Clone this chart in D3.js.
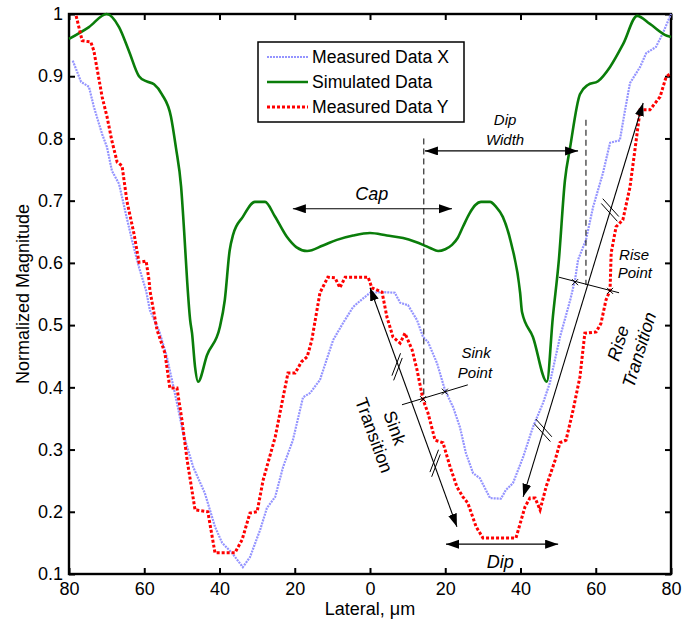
<!DOCTYPE html>
<html>
<head>
<meta charset="utf-8">
<script src="https://cdn.jsdelivr.net/npm/d3@7"></script>
<style>
body { margin: 0; background: #fff; }
text { font-family: "Liberation Sans", Arial, sans-serif; fill: #000; }
</style>
</head>
<body>
<div id="chart"></div>
<script>
// ---- data ----
const xTicks = [-80, -60, -40, -20, 0, 20, 40, 60, 80];
const yTicks = [0.1, 0.2, 0.3, 0.4, 0.5, 0.6, 0.7, 0.8, 0.9, 1];
const seriesNames = ["Measured Data X", "Simulated Data", "Measured Data Y"];

const measXLat = [-79, -76.8, -74.7, -73.4, -71.2, -69.9, -68.6, -66.7, -64.9, -63.2, -61.4, -59.5, -58.5, -56, -54.0, -51.3, -49.7, -47.0, -43.9, -41.2, -39.3, -36.7, -33.8, -31.9, -29.2, -27.4, -25.2, -23.1, -20.5, -17.8, -15.9, -13.3, -9.8, -7.2, -4.5, -3.2, 0, 3.5, 6.6, 8.0, 10.1, 12.5, 14.1, 15.4, 17.8, 19.9, 22.1, 23.9, 25.5, 27.4, 29.2, 31.9, 34.8, 36.1, 38.0, 40.7, 43.3, 46.0, 47.8, 50.5, 53.2, 54.5, 55.3, 57.4, 59.3, 61.9, 63.8, 66.4, 67.8, 69.1, 71.8, 73.4, 76.0, 77.9, 80];
const measXVal = [0.925, 0.891, 0.883, 0.851, 0.807, 0.786, 0.748, 0.727, 0.679, 0.635, 0.593, 0.555, 0.524, 0.49, 0.449, 0.375, 0.327, 0.272, 0.230, 0.176, 0.150, 0.134, 0.111, 0.127, 0.171, 0.206, 0.224, 0.272, 0.315, 0.384, 0.391, 0.412, 0.476, 0.503, 0.529, 0.536, 0.552, 0.553, 0.552, 0.536, 0.532, 0.508, 0.481, 0.473, 0.439, 0.396, 0.368, 0.336, 0.294, 0.262, 0.254, 0.222, 0.221, 0.235, 0.246, 0.288, 0.336, 0.375, 0.407, 0.481, 0.540, 0.573, 0.605, 0.637, 0.690, 0.744, 0.793, 0.797, 0.846, 0.889, 0.915, 0.937, 0.947, 0.970, 1.0];

const simLat = [-80, -74.7, -70, -66.7, -64.1, -61.4, -59.5, -57.4, -55.3, -52.9, -51.6, -50.2, -49.4, -48.6, -47.8, -47.3, -46.5, -45.7, -43.3, -39.9, -38.6, -37.3, -36.4, -33.8, -30.6, -27.9, -25.3, -22.1, -19.5, -16.7, -12.5, -8.8, -4.5, 0, 4.5, 8.8, 12, 14.1, 16, 18.1, 20, 21.8, 23.3, 24.7, 26.5, 28, 29.5, 31.9, 33.5, 35.3, 37.5, 39.9, 40.4, 43.3, 47.0, 48.6, 50.2, 51.8, 53.2, 55.8, 57.9, 60.6, 63.8, 67.3, 71.0, 74.4, 78.9, 80];
const simVal = [0.96, 0.979, 1.0, 0.979, 0.941, 0.90, 0.892, 0.887, 0.871, 0.835, 0.786, 0.722, 0.651, 0.571, 0.508, 0.487, 0.433, 0.409, 0.452, 0.497, 0.540, 0.620, 0.645, 0.674, 0.698, 0.698, 0.675, 0.642, 0.625, 0.619, 0.628, 0.637, 0.644, 0.648, 0.644, 0.640, 0.634, 0.629, 0.624, 0.619, 0.622, 0.629, 0.640, 0.658, 0.680, 0.693, 0.698, 0.698, 0.690, 0.674, 0.632, 0.552, 0.521, 0.481, 0.409, 0.513, 0.605, 0.732, 0.786, 0.871, 0.886, 0.892, 0.915, 0.952, 0.997, 0.984, 0.965, 0.963];

const measYLat = [-78.1, -76.5, -74.2, -73.4, -71.2, -69.9, -68.6, -67.2, -65.9, -64.6, -62.7, -61.4, -59.5, -58.7, -58.5, -56.6, -54.5, -53.2, -51.3, -50.0, -48.6, -46.5, -43.1, -41.2, -35.9, -34.0, -31.9, -30.0, -28.4, -25.2, -23.1, -21.8, -19.9, -18.2, -16.7, -15.5, -14.5, -13.3, -11.2, -9.3, -8.0, -6.6, -0.5, 0.5, 3.2, 4.5, 6.1, 8.0, 9.3, 11.2, 12.5, 14.1, 15.4, 17.3, 19.4, 21.3, 23.1, 24.7, 26.0, 28.2, 30.0, 38.8, 41.2, 42.5, 43.9, 45.2, 46.8, 49.2, 50.5, 52.1, 54.0, 55.8, 57.1, 60.1, 61.4, 62.7, 63.8, 64.1, 65.4, 67.2, 69.1, 70.4, 71.8, 74.4, 77.1, 78.7, 80];
const measYVal = [0.997, 0.957, 0.955, 0.941, 0.867, 0.835, 0.796, 0.762, 0.756, 0.699, 0.646, 0.601, 0.603, 0.571, 0.556, 0.492, 0.455, 0.399, 0.399, 0.348, 0.283, 0.203, 0.200, 0.134, 0.134, 0.155, 0.198, 0.200, 0.251, 0.320, 0.384, 0.423, 0.423, 0.441, 0.449, 0.475, 0.51, 0.552, 0.577, 0.576, 0.560, 0.577, 0.577, 0.560, 0.553, 0.513, 0.481, 0.471, 0.487, 0.460, 0.428, 0.380, 0.359, 0.315, 0.311, 0.272, 0.240, 0.224, 0.214, 0.176, 0.158, 0.158, 0.208, 0.222, 0.222, 0.203, 0.240, 0.283, 0.311, 0.315, 0.364, 0.417, 0.487, 0.489, 0.503, 0.540, 0.556, 0.616, 0.658, 0.669, 0.722, 0.781, 0.846, 0.846, 0.867, 0.899, 0.905];

// ---- layout ----
const width = 683, height = 623;
const margin = {left: 69, right: 12, top: 14, bottom: 49};

const svg = d3.select("#chart").append("svg").attr("width", width).attr("height", height);

const x = d3.scaleLinear().domain([-80, 80]).range([margin.left, width - margin.right]);
const y = d3.scaleLinear().domain([0.1, 1]).range([height - margin.bottom, margin.top]);

const defs = svg.append("defs");
defs.append("marker").attr("id", "head")
	.attr("markerUnits", "userSpaceOnUse")
	.attr("markerWidth", 14).attr("markerHeight", 10)
	.attr("refX", 13).attr("refY", 4.5)
	.attr("orient", "auto-start-reverse")
	.append("path").attr("d", "M0,0 L13,4.5 L0,9 z").attr("fill", "#000");

// axes, ticks pointing inward
const fmtY = d => d === 1 ? "1" : d.toFixed(1);
const axBottom = svg.append("g").attr("transform", `translate(0,${y(0.1)})`)
	.call(d3.axisBottom(x).tickValues(xTicks).tickSizeInner(-6).tickSizeOuter(0).tickPadding(8).tickFormat(d => Math.abs(d)));
const axTop = svg.append("g").attr("transform", `translate(0,${y(1)})`)
	.call(d3.axisTop(x).tickValues(xTicks).tickSizeInner(-6).tickSizeOuter(0).tickFormat(""));
const axLeft = svg.append("g").attr("transform", `translate(${x(-80)},0)`)
	.call(d3.axisLeft(y).tickValues(yTicks).tickSizeInner(-6).tickSizeOuter(0).tickPadding(6).tickFormat(fmtY));
const axRight = svg.append("g").attr("transform", `translate(${x(80)},0)`)
	.call(d3.axisRight(y).tickValues(yTicks).tickSizeInner(-6).tickSizeOuter(0).tickFormat(""));
[axBottom, axTop, axLeft, axRight].forEach(g => {
	g.select(".domain").remove();
	g.selectAll(".tick line").attr("stroke", "#000").attr("stroke-width", 2);
	g.selectAll("text").attr("font-size", 18).attr("font-family", "Liberation Sans, Arial, sans-serif").attr("fill", "#000");
});

svg.append("rect").attr("x", x(-80)).attr("y", y(1))
	.attr("width", x(80) - x(-80)).attr("height", y(0.1) - y(1))
	.attr("fill", "none").attr("stroke", "#000").attr("stroke-width", 2.4);

svg.append("text").attr("x", x(0)).attr("y", 615).attr("text-anchor", "middle")
	.attr("font-size", 18).text("Lateral, \u03bcm");
svg.append("text").attr("transform", `translate(29,${(y(0.1) + y(1)) / 2}) rotate(-90)`)
	.attr("text-anchor", "middle").attr("font-size", 18).text("Normalized Magnitude");

// ---- series ----
const zip = (a, b) => a.map((v, i) => [v, b[i]]);
const line = d3.line().x(d => x(d[0])).y(d => y(d[1]));
const smooth = d3.line().x(d => x(d[0])).y(d => y(d[1])).curve(d3.curveMonotoneX);

const styles = [
	{color: "#9494ff", w: 2.2, dash: "2,1"},
	{color: "#0a7d0a", w: 2.6, dash: null},
	{color: "#ff0000", w: 3, dash: "3,2"}
];

svg.append("path").datum(zip(measXLat, measXVal)).attr("d", line)
	.attr("fill", "none").attr("stroke", styles[0].color).attr("stroke-width", styles[0].w).attr("stroke-dasharray", styles[0].dash);
svg.append("path").datum(zip(simLat, simVal)).attr("d", smooth)
	.attr("fill", "none").attr("stroke", styles[1].color).attr("stroke-width", styles[1].w).attr("stroke-linejoin", "round");
svg.append("path").datum(zip(measYLat, measYVal)).attr("d", line)
	.attr("fill", "none").attr("stroke", styles[2].color).attr("stroke-width", styles[2].w).attr("stroke-dasharray", styles[2].dash);

// ---- annotations ----
const ann = svg.append("g").attr("stroke", "#000").attr("fill", "none");

// dashed guides
[[14.3, 0.80, 0.383], [57.4, 0.83, 0.5645]].forEach(d => {
	ann.append("line").attr("x1", x(d[0])).attr("x2", x(d[0])).attr("y1", y(d[1])).attr("y2", y(d[2]))
		.attr("stroke-width", 1).attr("stroke-dasharray", "6,4");
});

// double headed arrows
const arrows = [
	[-20.5, 0.687, 21.8, 0.687],	// Cap
	[14.6, 0.780, 55.3, 0.780],	// Dip width
	[20.2, 0.148, 50.0, 0.148],	// Dip
	[0, 0.560, 23.1, 0.176],	// sink transition
	[40.7, 0.224, 72.6, 0.857]	// rise transition
];
arrows.forEach(a => {
	ann.append("line").attr("x1", x(a[0])).attr("y1", y(a[1])).attr("x2", x(a[2])).attr("y2", y(a[3]))
		.attr("stroke-width", 1.1).attr("marker-start", "url(#head)").attr("marker-end", "url(#head)");
});

// hash marks on the transition arrows
const hashes = [
	{p: [7.2, 0.433], ang: -69, along: 70},
	{p: [17.3, 0.278], ang: -69, along: 70},
	{p: [63.8, 0.685], ang: 48, along: -73},
	{p: [46.0, 0.331], ang: 48, along: -73}
];
hashes.forEach(h => {
	const cx = x(h.p[0]), cy = y(h.p[1]);
	const a = h.ang * Math.PI / 180, b = h.along * Math.PI / 180;
	[-2.5, 2.5].forEach(o => {
		const ox = cx + o * Math.cos(b), oy = cy + o * Math.sin(b);
		ann.append("line")
			.attr("x1", ox - 12 * Math.cos(a)).attr("y1", oy - 12 * Math.sin(a))
			.attr("x2", ox + 12 * Math.cos(a)).attr("y2", oy + 12 * Math.sin(a))
			.attr("stroke-width", 1);
	});
});

// sink / rise point cross lines with x marks
const crossLines = [[8.5, 0.372, 26.0, 0.404], [50.2, 0.577, 66.2, 0.552]];
crossLines.forEach(c => {
	ann.append("line").attr("x1", x(c[0])).attr("y1", y(c[1])).attr("x2", x(c[2])).attr("y2", y(c[3])).attr("stroke-width", 1);
});
const xMarks = [[14.1, 0.381], [19.9, 0.393], [54.5, 0.569], [63.8, 0.555]];
xMarks.forEach(m => {
	const cx = x(m[0]), cy = y(m[1]);
	ann.append("path").attr("d", `M${cx - 3},${cy - 3}L${cx + 3},${cy + 3}M${cx - 3},${cy + 3}L${cx + 3},${cy - 3}`).attr("stroke-width", 1);
});

// labels
const labels = [
	{t: "Cap", p: [0.5, 0.712], s: 18},
	{t: "Dip", p: [35.9, 0.830], s: 15},
	{t: "Width", p: [35.9, 0.798], s: 15},
	{t: "Dip", p: [34.6, 0.119], s: 18},
	{t: "Sink", p: [28.2, 0.455], s: 15},
	{t: "Point", p: [27.9, 0.423], s: 15},
	{t: "Rise", p: [70.2, 0.613], s: 15},
	{t: "Point", p: [70.4, 0.584], s: 15}
];
labels.forEach(l => {
	svg.append("text").attr("x", x(l.p[0])).attr("y", y(l.p[1])).attr("dy", "0.35em")
		.attr("text-anchor", "middle").attr("font-size", l.s).attr("font-style", "italic").text(l.t);
});

const rotLabels = [
	{lines: ["Sink", "Transition"], p: [3.86, 0.329], rot: 70, italic: false},
	{lines: ["Rise", "Transition"], p: [68.7, 0.4656], rot: -73, italic: true}
];
rotLabels.forEach(r => {
	const t = svg.append("text").attr("transform", `translate(${x(r.p[0])},${y(r.p[1])}) rotate(${r.rot})`)
		.attr("text-anchor", "middle").attr("font-size", 18).attr("font-style", r.italic ? "italic" : "normal");
	r.lines.forEach((s, i) => {
		t.append("tspan").attr("x", 0).attr("y", i === 0 ? -11 : 11).attr("dy", "0.35em").text(s);
	});
});

// ---- legend ----
const lg = svg.append("g").attr("transform", "translate(258,42)");
lg.append("rect").attr("width", 206).attr("height", 80).attr("fill", "#fff").attr("stroke", "#000").attr("stroke-width", 1.5);
seriesNames.forEach((n, i) => {
	const yy = 15 + i * 25;
	lg.append("line").attr("x1", 9).attr("x2", 50).attr("y1", yy).attr("y2", yy)
		.attr("stroke", styles[i].color).attr("stroke-width", styles[i].w).attr("stroke-dasharray", styles[i].dash);
	lg.append("text").attr("x", 54).attr("y", yy).attr("dy", "0.35em").attr("font-size", 17.6).text(n);
});
</script>
</body>
</html>
